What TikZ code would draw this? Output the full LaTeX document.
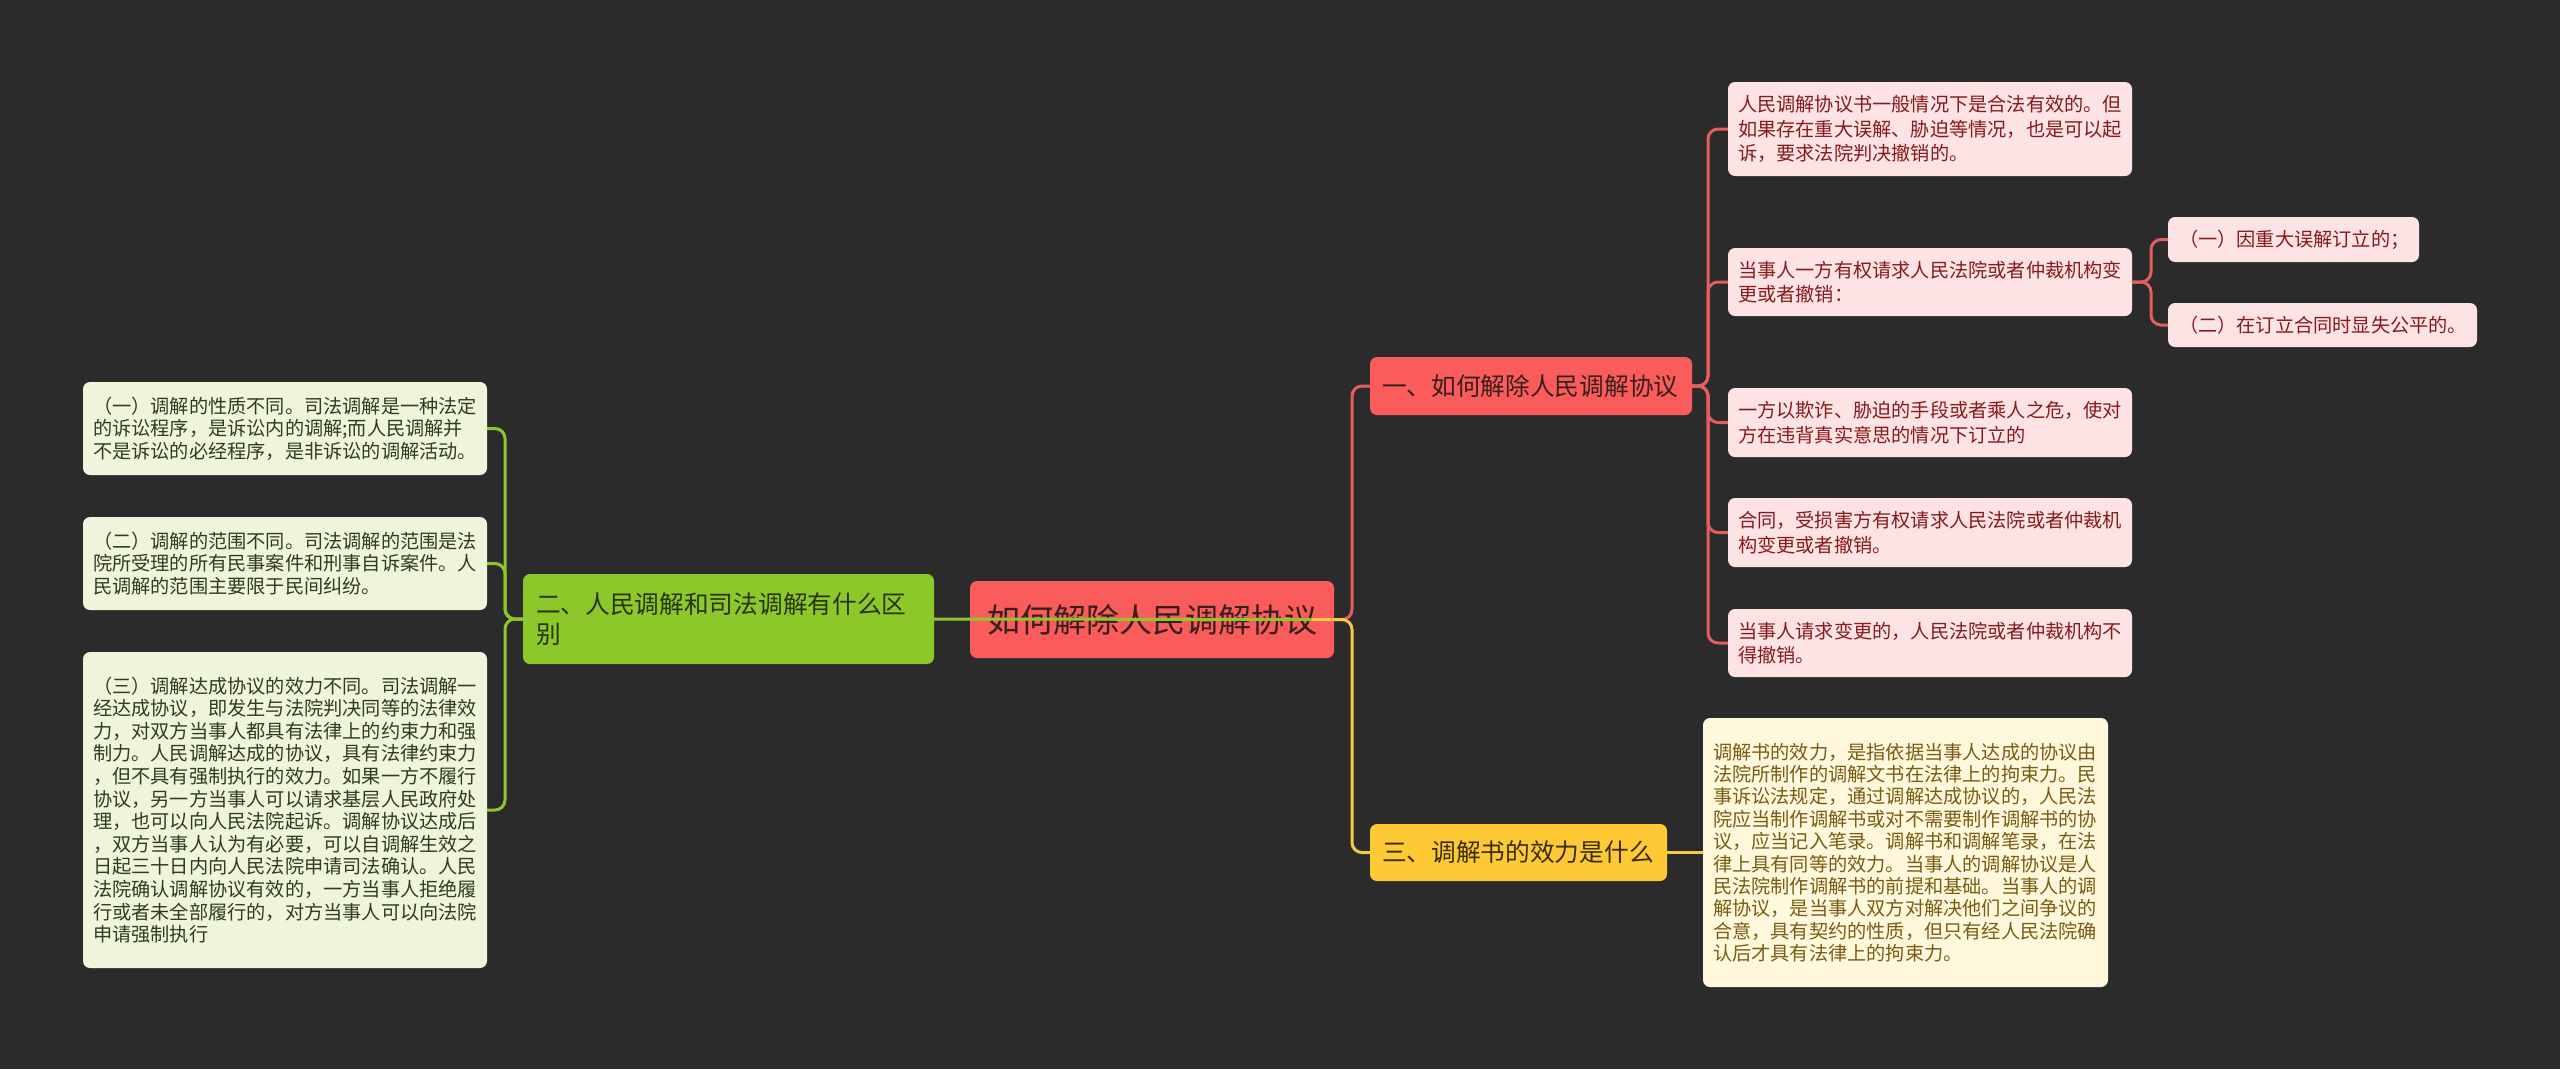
\documentclass[tikz,border=0pt]{standalone}
\usepackage{fontspec}
\newfontfamily\cjk{Noto Sans CJK SC}
\definecolor{bgc}{HTML}{2B2B2B}
\definecolor{redm}{HTML}{FA5C5C}
\definecolor{redtxt}{HTML}{3A1E1E}
\definecolor{yelb}{HTML}{FDC934}
\definecolor{yeltxt}{HTML}{3A2C08}
\definecolor{grnb}{HTML}{8CC82A}
\definecolor{grntxt}{HTML}{28340F}
\definecolor{pinkf}{HTML}{FDE3E3}
\definecolor{pinkt}{HTML}{861A1C}
\definecolor{leftf}{HTML}{EEF5DB}
\definecolor{leftt}{HTML}{323A22}
\definecolor{ylwf}{HTML}{FFF8DC}
\definecolor{ylwt}{HTML}{7A5C12}
\definecolor{lred}{HTML}{E55D5D}
\definecolor{lgrn}{HTML}{8CC82A}
\definecolor{lyel}{HTML}{F7C843}
\tikzset{
  base/.style={rounded corners=7pt, inner ysep=2pt, align=left},
  rootbox/.style={base, fill=redm, text=redtxt, font=\cjk\fontsize{33}{38}\selectfont, minimum width=364pt, minimum height=77pt, align=center},
  redbr/.style={base, fill=redm, text=redtxt, font=\cjk\fontsize{24.7}{30}\selectfont, inner xsep=12pt},
  yelbr/.style={base, fill=yelb, text=yeltxt, font=\cjk\fontsize{24.7}{30}\selectfont, inner xsep=12pt},
  grnbr/.style={base, fill=grnb, text=grntxt, font=\cjk\fontsize{24.7}{30}\selectfont, inner xsep=13pt, text width=385pt},
  pinkleaf/.style={base, fill=pinkf, text=pinkt, font=\cjk\fontsize{19.2}{24.5}\selectfont, inner xsep=10pt, text width=384pt},
  pinksub/.style={base, fill=pinkf, text=pinkt, font=\cjk\fontsize{19.2}{24.5}\selectfont, inner xsep=11pt},
  leftleaf/.style={base, fill=leftf, text=leftt, font=\cjk\fontsize{19.2}{22.6}\selectfont, inner xsep=10pt, text width=384pt},
  yelleaf/.style={base, fill=ylwf, text=ylwt, font=\cjk\fontsize{19.2}{22.4}\selectfont, inner xsep=10pt, text width=385pt},
  conn/.style={line width=3pt, rounded corners=10pt},
}
\begin{document}
\begin{tikzpicture}[x=1pt, y=-1pt]
\useasboundingbox (0,0) rectangle (2560,1069);
\fill[bgc] (0,0) rectangle (2560,1069);

% nodes
\node[rootbox] (root) at (1152,619.5) {如何解除人民调解协议};
\node[redbr, minimum width=322pt, minimum height=58pt, text width=298pt] (b1) at (1531,386) {一、如何解除人民调解协议};
\node[yelbr, minimum width=297pt, minimum height=57pt, text width=273pt] (b3) at (1518.5,852.5) {三、调解书的效力是什么};
\node[grnbr, minimum width=411pt, minimum height=90pt] (b2) at (728.5,619) {二、人民调解和司法调解有什么区\\别};

\node[pinkleaf, minimum height=94pt] (r1) at (1930,129) {人民调解协议书一般情况下是合法有效的。但\\如果存在重大误解、胁迫等情况，也是可以起\\诉，要求法院判决撤销的。};
\node[pinkleaf, minimum height=68pt] (r2) at (1930,282) {当事人一方有权请求人民法院或者仲裁机构变\\更或者撤销：};
\node[pinkleaf, minimum height=69pt] (r3) at (1930,422.5) {一方以欺诈、胁迫的手段或者乘人之危，使对\\方在违背真实意思的情况下订立的};
\node[pinkleaf, minimum height=69pt] (r4) at (1930,532.5) {合同，受损害方有权请求人民法院或者仲裁机\\构变更或者撤销。};
\node[pinkleaf, minimum height=68pt] (r5) at (1930,643) {当事人请求变更的，人民法院或者仲裁机构不\\得撤销。};
\node[pinksub, minimum width=251pt, minimum height=45pt, text width=229pt] (r2a) at (2293.5,239.5) {（一）因重大误解订立的；};
\node[pinksub, minimum width=309pt, minimum height=44pt, text width=287pt] (r2b) at (2322.5,325) {（二）在订立合同时显失公平的。};

\node[leftleaf, minimum height=93pt] (l1) at (285,428.5) {（一）调解的性质不同。司法调解是一种法定\\的诉讼程序，是诉讼内的调解;而人民调解并\\不是诉讼的必经程序，是非诉讼的调解活动。};
\node[leftleaf, minimum height=93pt] (l2) at (285,563.5) {（二）调解的范围不同。司法调解的范围是法\\院所受理的所有民事案件和刑事自诉案件。人\\民调解的范围主要限于民间纠纷。};
\node[leftleaf, minimum height=316pt] (l3) at (285,810) {（三）调解达成协议的效力不同。司法调解一\\经达成协议，即发生与法院判决同等的法律效\\力，对双方当事人都具有法律上的约束力和强\\制力。人民调解达成的协议，具有法律约束力\\，但不具有强制执行的效力。如果一方不履行\\协议，另一方当事人可以请求基层人民政府处\\理，也可以向人民法院起诉。调解协议达成后\\，双方当事人认为有必要，可以自调解生效之\\日起三十日内向人民法院申请司法确认。人民\\法院确认调解协议有效的，一方当事人拒绝履\\行或者未全部履行的，对方当事人可以向法院\\申请强制执行};

\node[yelleaf, minimum height=269pt] (y1) at (1905.5,852.5) {调解书的效力，是指依据当事人达成的协议由\\法院所制作的调解文书在法律上的拘束力。民\\事诉讼法规定，通过调解达成协议的，人民法\\院应当制作调解书或对不需要制作调解书的协\\议，应当记入笔录。调解书和调解笔录，在法\\律上具有同等的效力。当事人的调解协议是人\\民法院制作调解书的前提和基础。当事人的调\\解协议，是当事人双方对解决他们之间争议的\\合意，具有契约的性质，但只有经人民法院确\\认后才具有法律上的拘束力。};

% connectors
\coordinate (hub) at (1312,619.5);
\coordinate (rj) at (1352,619.5);
\draw[conn, lred] (hub) -- (rj) |- (b1.west);
\draw[conn, lyel] (hub) -- (rj) |- (b3.west);
\draw[conn, lgrn] (b2.east) -- (hub);

\coordinate (gj) at (505,619);
\draw[conn, lgrn] (b2.west) -- (gj) |- (l1.east);
\draw[conn, lgrn] (b2.west) -- (gj) |- (l2.east);
\draw[conn, lgrn] (b2.west) -- (gj) |- (l3.east);

\coordinate (bj) at (1708,386);
\foreach \n in {r1,r2,r3,r4,r5} {
  \draw[conn, lred] (b1.east) -- (bj) |- (\n.west);
}
\coordinate (sj) at (2151,282);
\draw[conn, lred] (r2.east) -- (sj) |- (r2a.west);
\draw[conn, lred] (r2.east) -- (sj) |- (r2b.west);

\draw[conn, lyel] (b3.east) -- (y1.west);
\end{tikzpicture}
\end{document}
